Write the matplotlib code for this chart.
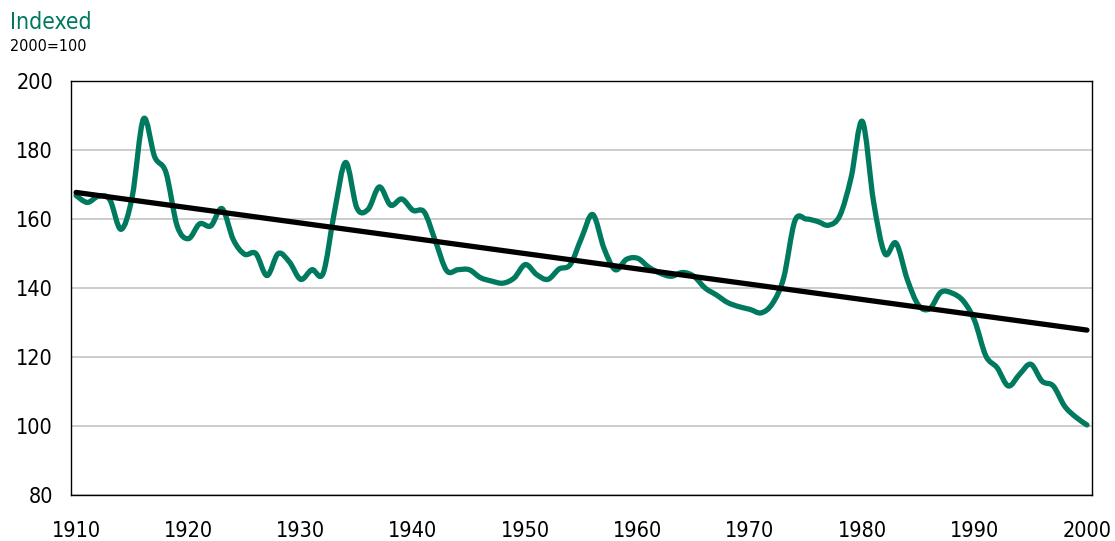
#!/usr/bin/env python3
"""
Indexed series, 1910-2000 (2000=100), with linear trend
"""
import matplotlib
matplotlib.use('Agg')
import matplotlib.pyplot as plt
from matplotlib import font_manager
from matplotlib.path import Path
from matplotlib.patches import PathPatch

# narrow face if there is one, else condensed DejaVu
names = {f.name for f in font_manager.fontManager.ttflist}
if 'Liberation Sans Narrow' in names:
    plt.rcParams['font.family'] = ['Liberation Sans Narrow', 'DejaVu Sans']
else:
    plt.rcParams['font.family'] = ['DejaVu Sans']
    plt.rcParams['font.stretch'] = 'condensed'

GREEN = '#007a5e'

years = list(range(1910, 2001))
index_values = [
    166.8, 164.8, 166.6, 165.6, 157.0, 166.5, 189.0, 178.0, 173.5, 158.0,  # 1910s
    154.3, 158.6, 158.0, 163.0, 154.0, 149.8, 150.0, 143.6, 150.0, 147.5,  # 1920s
    142.5, 145.3, 144.3, 162.0, 176.4, 163.2, 162.8, 169.3, 164.0, 165.8,  # 1930s
    162.5, 162.0, 153.5, 145.0, 145.3, 145.3, 143.0, 142.0, 141.4, 142.9,  # 1940s
    146.8, 143.9, 142.5, 145.5, 146.8, 154.5, 161.3, 151.5, 145.3, 148.3,  # 1950s
    148.6, 146.0, 144.3, 143.4, 144.5, 143.4, 140.0, 138.0, 135.8, 134.6,  # 1960s
    133.8, 132.8, 135.5, 143.0, 159.5, 160.0, 159.3, 158.2, 161.0, 172.0,  # 1970s
    188.3, 165.0, 150.0, 153.0, 142.5, 135.0, 134.0, 138.8, 138.5, 136.2,  # 1980s
    130.5, 120.3, 116.9, 111.6, 115.0, 117.9, 113.0, 111.6, 105.8, 102.6,  # 1990s
    100.3,
]
trend_years = [1910, 2000]
trend_values = [167.7, 127.8]

x_ticks = list(range(1910, 2001, 10))
y_ticks = list(range(80, 201, 20))


def smooth_path(xs, ys, tension=1 / 6):
    """Cubic bezier path through the points (Catmull-Rom style, like a
    spreadsheet 'smoothed line')."""
    verts = [(xs[0], ys[0])]
    codes = [Path.MOVETO]
    n = len(xs)
    for i in range(n - 1):
        x0, y0 = (xs[i - 1], ys[i - 1]) if i > 0 else (xs[i], ys[i])
        x1, y1 = xs[i], ys[i]
        x2, y2 = xs[i + 1], ys[i + 1]
        x3, y3 = (xs[i + 2], ys[i + 2]) if i + 2 < n else (x2, y2)
        c1 = (x1 + (x2 - x0) * tension, y1 + (y2 - y0) * tension)
        c2 = (x2 - (x3 - x1) * tension, y2 - (y3 - y1) * tension)
        verts += [c1, c2, (x2, y2)]
        codes += [Path.CURVE4] * 3
    return Path(verts, codes)


fig = plt.figure(figsize=(11.15, 5.41), dpi=100)
ax = fig.add_axes([0.0637, 0.085, 0.9157, 0.7653])

ax.set_axisbelow(True)
ax.grid(axis='y', color='#c4c4c4', linewidth=1.2)
ax.grid(axis='x', visible=False)

ax.add_patch(PathPatch(smooth_path(years, index_values), facecolor='none',
                       edgecolor=GREEN, linewidth=3.8, capstyle='round',
                       joinstyle='round', zorder=3))
ax.plot(trend_years, trend_values, color='black', linewidth=3.8,
        solid_capstyle='round', zorder=4)

ax.set_xlim(1909.55, 2000.45)
ax.set_ylim(80, 200)
ax.set_xticks(x_ticks)
ax.set_yticks(y_ticks)
ax.tick_params(length=0, labelsize=15.5)
ax.tick_params(axis='y', pad=13)
ax.tick_params(axis='x', pad=19)
for spine in ax.spines.values():
    spine.set_linewidth(1.0)
    spine.set_color('black')

fig.text(0.009, 0.947, 'Indexed', color=GREEN, fontsize=16.5, va='baseline')
fig.text(0.009, 0.906, '2000=100', color='black', fontsize=11.5,
         va='baseline')

fig.savefig('out.png', dpi=100)
